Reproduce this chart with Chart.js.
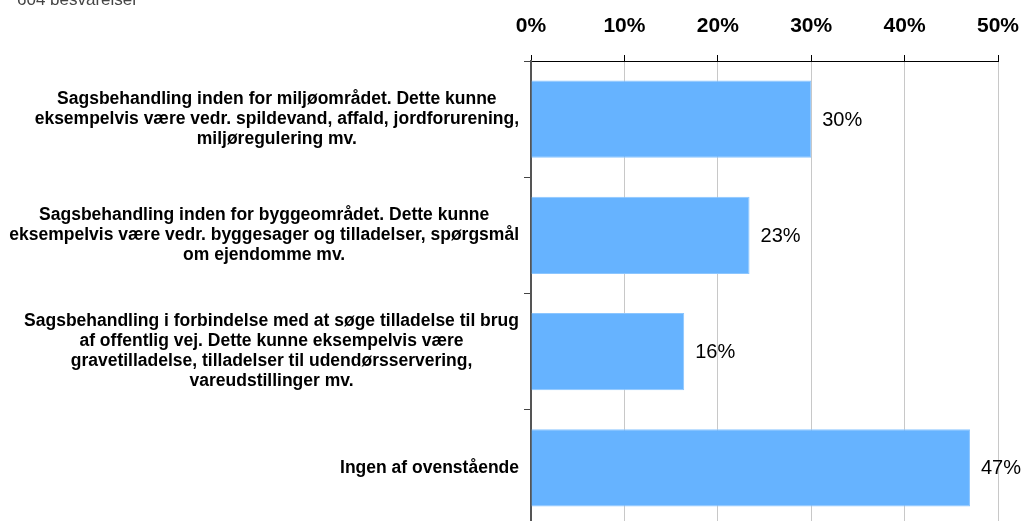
<!DOCTYPE html>
<html>
<head>
<meta charset="utf-8">
<script src="https://cdn.jsdelivr.net/npm/chart.js@4"></script>
<style>
  html, body { margin: 0; padding: 0; background: #fff; overflow: hidden; }
  #wrap { width: 1035px; height: 521px; overflow: hidden; position: relative; }
  #myChart { display: block; }
</style>
</head>
<body>
<div id="wrap"><canvas id="myChart" width="1035" height="526"></canvas></div>
<script>
const subtitle = '604 besvarelser';

const categories = [
    ['Sagsbehandling inden for miljøområdet. Dette kunne',
     'eksempelvis være vedr. spildevand, affald, jordforurening,',
     'miljøregulering mv.'],
    ['Sagsbehandling inden for byggeområdet. Dette kunne',
     'eksempelvis være vedr. byggesager og tilladelser, spørgsmål',
     'om ejendomme mv.'],
    ['Sagsbehandling i forbindelse med at søge tilladelse til brug',
     'af offentlig vej. Dette kunne eksempelvis være',
     'gravetilladelse, tilladelser til udendørsservering,',
     'vareudstillinger mv.'],
    ['Ingen af ovenstående']
];

const shares = [30, 23.4, 16.4, 47];

const xTicks = [0, 10, 20, 30, 40, 50];

const FONT = '"Liberation Sans", Arial, sans-serif';

// text in top-left corner (cut off in the original)
const subtitlePlugin = {
    id: 'subtitleText',
    afterDraw(chart) {
        const c = chart.ctx;
        c.save();
        c.font = '17px ' + FONT;
        c.fillStyle = '#444';
        c.textAlign = 'left';
        c.textBaseline = 'alphabetic';
        c.fillText(subtitle, 17, 5);
        c.restore();
    }
};

// category labels: lines centred on each other, block right aligned to the axis
const categoryLabels = {
    id: 'categoryLabels',
    afterDraw(chart) {
        const c = chart.ctx;
        const yScale = chart.scales.y;
        const right = yScale.right - 12;
        const lineH = 20;
        c.save();
        c.font = 'bold 17.5px ' + FONT;
        c.fillStyle = '#000';
        c.textAlign = 'center';
        c.textBaseline = 'middle';
        categories.forEach((lines, i) => {
            const widest = Math.max(...lines.map(l => c.measureText(l).width));
            const cx = right - widest / 2;
            const cy = yScale.getPixelForTick(i);
            const top = cy - (lines.length - 1) * lineH / 2;
            lines.forEach((l, j) => c.fillText(l, cx, top + j * lineH));
        });
        c.restore();
    }
};

// percentage labels after each bar
const valueLabels = {
    id: 'valueLabels',
    afterDatasetsDraw(chart) {
        const c = chart.ctx;
        const meta = chart.getDatasetMeta(0);
        c.save();
        c.font = '20px ' + FONT;
        c.fillStyle = '#000';
        c.textAlign = 'left';
        c.textBaseline = 'middle';
        meta.data.forEach((bar, i) => {
            c.fillText(Math.round(shares[i]) + '%', bar.x + 11, bar.y + 1);
        });
        c.restore();
    }
};

let myChart = null;

function initChart() {
    const ctx = document.getElementById('myChart').getContext('2d');
    myChart = new Chart(ctx, {
        type: 'bar',
        data: {
            labels: categories,
            datasets: [{
                data: shares,
                backgroundColor: '#66b3ff',
                borderColor: '#8cc6ff',
                borderWidth: 1,
                barPercentage: 0.665,
                categoryPercentage: 1
            }]
        },
        options: {
            indexAxis: 'y',
            responsive: false,
            animation: false,
            layout: { padding: { top: 0, right: 37, bottom: 0, left: 0 } },
            plugins: {
                legend: { display: false },
                tooltip: { enabled: false }
            },
            scales: {
                x: {
                    position: 'top',
                    min: 0,
                    max: 50,
                    afterBuildTicks(scale) {
                        scale.ticks = xTicks.map(v => ({ value: v }));
                    },
                    afterFit(scale) {
                        scale.height = 61;
                        scale.paddingLeft = 0;
                        scale.paddingRight = 0;
                    },
                    border: { color: '#000', width: 1 },
                    grid: { color: '#c8c8c8', tickColor: '#000', tickLength: 6 },
                    ticks: {
                        callback: v => v + '%',
                        color: '#000',
                        padding: 16,
                        maxRotation: 0,
                        font: { family: FONT, size: 21, weight: 'bold' }
                    }
                },
                y: {
                    afterFit(scale) {
                        scale.width = 531;
                        scale.paddingTop = 0;
                        scale.paddingBottom = 0;
                    },
                    border: { color: '#555', width: 2 },
                    grid: { offset: true, drawOnChartArea: false, tickColor: '#444', tickLength: 7 },
                    ticks: {
                        // drawn by the categoryLabels plugin instead
                        color: 'rgba(0,0,0,0)',
                        font: { family: FONT, size: 17.5, weight: 'bold', lineHeight: '20px' }
                    }
                }
            }
        },
        plugins: [subtitlePlugin, categoryLabels, valueLabels]
    });
}

initChart();
</script>
</body>
</html>
